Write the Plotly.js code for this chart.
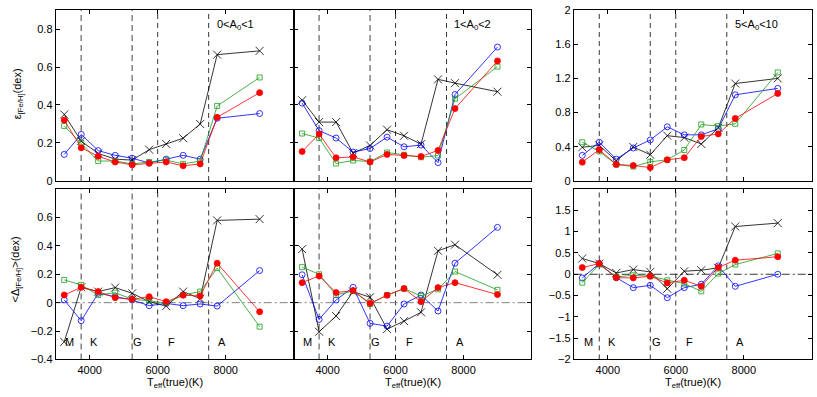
<!DOCTYPE html>
<html>
<head>
<meta charset="utf-8">
<script src="https://cdn.plot.ly/plotly-3.0.1.min.js"></script>
<style>
  html, body { margin: 0; padding: 0; background: #fff; }
  #myPlot { width: 817px; height: 397px; }
</style>
</head>
<body>
<div id="myPlot"></div>
<script>
// 1. Data
// Effective temperature bins (K), same for every panel
const TEFF = [3250, 3750, 4250, 4750, 5250, 5750, 6250, 6750, 7250, 7750, 9000];

// Spectral type boundaries and labels
const BOUNDS = [3750, 5250, 6000, 7500];
const SPEC_LABELS = ["M", "K", "G", "F", "A"];
const SPEC_POS = [3420, 4120, 5420, 6400, 7900];

// Extinction bins (panel titles)
const BIN_LABELS = ["0&lt;A<sub>0</sub>&lt;1", "1&lt;A<sub>0</sub>&lt;2", "5&lt;A<sub>0</sub>&lt;10"];

// Top row: epsilon [Fe/H] (dex)
const eps1Cross = [0.35, 0.21, 0.145, 0.115, 0.11, 0.165, 0.195, 0.225, 0.30, 0.665, 0.685];
const eps1Circ  = [0.14, 0.245, 0.16, 0.135, 0.12, 0.095, 0.115, 0.135, 0.115, 0.33, 0.355];
const eps1Sq    = [0.29, 0.20, 0.105, 0.105, 0.09, 0.10, 0.11, 0.09, 0.105, 0.395, 0.545];
const eps1Dot   = [0.32, 0.175, 0.13, 0.10, 0.085, 0.093, 0.10, 0.08, 0.09, 0.335, 0.465];

const eps2Cross = [0.425, 0.31, 0.31, 0.147, 0.187, 0.27, 0.238, 0.194, 0.535, 0.515, 0.47];
const eps2Circ  = [0.41, 0.265, 0.226, 0.152, 0.171, 0.231, 0.18, 0.189, 0.097, 0.455, 0.705];
const eps2Sq    = [0.25, 0.226, 0.092, 0.108, 0.102, 0.15, 0.138, 0.125, 0.134, 0.433, 0.602];
const eps2Dot   = [0.155, 0.247, 0.122, 0.127, 0.10, 0.14, 0.134, 0.129, 0.161, 0.381, 0.632];

const eps3Cross = [0.394, 0.417, 0.236, 0.398, 0.307, 0.53, 0.508, 0.433, 0.622, 1.14, 1.2];
const eps3Circ  = [0.30, 0.453, 0.256, 0.386, 0.48, 0.634, 0.54, 0.54, 0.61, 1.008, 1.083];
const eps3Sq    = [0.453, 0.346, 0.193, 0.169, 0.224, 0.248, 0.362, 0.661, 0.642, 0.669, 1.27];
const eps3Dot   = [0.22, 0.366, 0.193, 0.181, 0.157, 0.248, 0.272, 0.52, 0.551, 0.732, 1.024];

// Bottom row: mean Delta [Fe/H] (dex)
const del1Cross = [-0.276, 0.108, 0.078, 0.106, 0.066, 0.007, -0.024, 0.078, 0.028, 0.579, 0.588];
const del1Circ  = [0.019, -0.127, 0.066, 0.042, 0.019, -0.021, -0.005, -0.021, -0.009, -0.024, 0.226];
const del1Sq    = [0.16, 0.125, 0.054, 0.07, 0.024, 0.014, -0.005, 0.054, 0.078, 0.243, -0.169];
const del1Dot   = [0.054, 0.108, 0.078, 0.035, 0.024, 0.042, 0.007, 0.052, 0.047, 0.278, -0.064];

const del2Cross = [0.377, -0.205, -0.094, 0.078, 0.038, -0.186, -0.13, -0.068, 0.365, 0.408, 0.196];
const del2Circ  = [0.196, -0.118, 0.019, 0.108, -0.146, -0.165, -0.009, 0.054, -0.059, 0.278, 0.53];
const del2Sq    = [0.25, 0.2, 0.054, 0.082, -0.009, 0.054, 0.099, 0.047, 0.094, 0.219, 0.09];
const del2Dot   = [0.141, 0.188, 0.071, 0.085, -0.005, 0.052, 0.099, 0.007, 0.106, 0.141, 0.057];

const del3Cross = [0.37, 0.25, 0.03, 0.11, 0.055, -0.34, 0.07, 0.095, 0.15, 1.12, 1.2];
const del3Circ  = [-0.087, 0.25, -0.08, -0.315, -0.26, -0.55, -0.315, -0.236, 0.197, -0.283, 0.0];
const del3Sq    = [-0.197, 0.228, -0.063, -0.024, -0.047, -0.142, -0.22, -0.40, 0.016, 0.228, 0.488];
const del3Dot   = [0.157, 0.25, -0.08, -0.087, -0.047, -0.205, -0.142, -0.283, 0.157, 0.33, 0.41];

const PANELS = [
    [eps1Cross, eps1Circ, eps1Sq, eps1Dot],
    [eps2Cross, eps2Circ, eps2Sq, eps2Dot],
    [eps3Cross, eps3Circ, eps3Sq, eps3Dot],
    [del1Cross, del1Circ, del1Sq, del1Dot],
    [del2Cross, del2Circ, del2Sq, del2Dot],
    [del3Cross, del3Circ, del3Sq, del3Dot]
];

// 2. Styles
const FONT = "Liberation Sans, Arial, Helvetica, sans-serif";
const SERIES_STYLE = [
    { color: '#000000', symbol: 'x-thin-open', size: 8 },
    { color: '#0000ff', symbol: 'circle-open', size: 6 },
    { color: '#1a9e1a', symbol: 'square-open', size: 5 },
    { color: '#ff0000', symbol: 'circle', size: 6 }
];

// Panel placement (paper fractions)
const X_DOM = [[0.0682, 0.3594], [0.3594, 0.6505], [0.7023, 0.9936]];
const Y_DOM = [[0.5441, 0.9748], [0.0945, 0.5239]];

// 3. Build traces
const traces = [];
PANELS.forEach((series, p) => {
    const n = p + 1;
    series.forEach((vals, s) => {
        const st = SERIES_STYLE[s];
        traces.push({
            x: TEFF,
            y: vals,
            xaxis: n === 1 ? 'x' : 'x' + n,
            yaxis: n === 1 ? 'y' : 'y' + n,
            mode: 'lines+markers',
            line: { color: st.color, width: 0.8 },
            marker: {
                symbol: st.symbol, size: st.size, color: st.color,
                line: { color: st.color, width: 0.8 }
            },
            hoverinfo: 'skip'
        });
    });
});

// 4. Axes
function xAxis(col, bottom) {
    return {
        domain: X_DOM[col],
        range: [3000, 10000],
        tickvals: [4000, 6000, 8000],
        ticktext: ["4000", "6000", "8000"],
        showticklabels: bottom,
        ticks: 'inside', ticklen: 4, tickcolor: '#000', mirror: 'ticks',
        showline: true, linecolor: '#000', linewidth: 1,
        showgrid: false, zeroline: false,
        tickfont: { family: FONT, size: 11, color: '#000' }
    };
}

function yAxis(row, col, range, vals, anchor) {
    return {
        domain: Y_DOM[row],
        anchor: anchor,
        range: range,
        tickvals: vals,
        showticklabels: col !== 1,
        ticks: 'inside', ticklen: 4, tickcolor: '#000', mirror: 'ticks',
        showline: true, linecolor: '#000', linewidth: 1,
        showgrid: false, zeroline: false,
        tickfont: { family: FONT, size: 11, color: '#000' }
    };
}

const layout = {
    width: 817,
    height: 397,
    margin: { t: 0, b: 0, l: 0, r: 0 },
    paper_bgcolor: '#fff',
    plot_bgcolor: '#fff',
    showlegend: false,
    font: { family: FONT, size: 11, color: '#000' },

    xaxis: Object.assign(xAxis(0, false), { anchor: 'y' }),
    xaxis2: Object.assign(xAxis(1, false), { anchor: 'y2' }),
    xaxis3: Object.assign(xAxis(2, false), { anchor: 'y3' }),
    xaxis4: Object.assign(xAxis(0, true), { anchor: 'y4' }),
    xaxis5: Object.assign(xAxis(1, true), { anchor: 'y5' }),
    xaxis6: Object.assign(xAxis(2, true), { anchor: 'y6' }),

    yaxis: yAxis(0, 0, [0, 0.9], [0, 0.2, 0.4, 0.6, 0.8], 'x'),
    yaxis2: yAxis(0, 1, [0, 0.9], [0, 0.2, 0.4, 0.6, 0.8], 'x2'),
    yaxis3: yAxis(0, 2, [0, 2], [0, 0.4, 0.8, 1.2, 1.6, 2], 'x3'),
    yaxis4: yAxis(1, 0, [-0.4, 0.8], [-0.4, -0.2, 0, 0.2, 0.4, 0.6], 'x4'),
    yaxis5: yAxis(1, 1, [-0.4, 0.8], [-0.4, -0.2, 0, 0.2, 0.4, 0.6], 'x5'),
    yaxis6: yAxis(1, 2, [-2, 2], [-2, -1.5, -1, -0.5, 0, 0.5, 1, 1.5], 'x6'),

    shapes: [],
    annotations: []
};

// 5. Reference lines: spectral boundaries and zero level
for (let n = 1; n <= 6; n++) {
    const xr = n === 1 ? 'x' : 'x' + n;
    const yr = n === 1 ? 'y' : 'y' + n;
    const lastCol = (n === 3 || n === 6);
    BOUNDS.forEach((b, i) => {
        const grey = !lastCol && i < 2;
        layout.shapes.push({
            type: 'line', layer: 'below',
            xref: xr, yref: yr + ' domain',
            x0: b, x1: b, y0: 0, y1: 1,
            line: { color: grey ? '#808080' : '#000', width: grey ? 1.5 : 0.8, dash: grey ? '6px,4px' : '5px,4px' }
        });
    });
    if (n >= 4) {
        layout.shapes.push({
            type: 'line', layer: 'below',
            xref: xr + ' domain', yref: yr,
            x0: 0, x1: 1, y0: 0, y1: 0,
            line: { color: lastCol ? '#000' : '#808080', width: lastCol ? 0.8 : 1, dash: '8px,3px,2px,3px' }
        });
        SPEC_LABELS.forEach((lab, i) => {
            layout.annotations.push({
                text: lab, xref: xr, yref: yr + ' domain',
                x: SPEC_POS[i], y: 0.1, xanchor: 'center', yanchor: 'middle', showarrow: false,
                font: { family: FONT, size: 11, color: '#000' }
            });
        });
        layout.annotations.push({
            text: "T<sub>eff</sub>(true)(K)",
            xref: xr + ' domain', yref: 'paper',
            x: 0.5, y: 0.057, xanchor: 'center', yanchor: 'top', showarrow: false,
            font: { family: FONT, size: 11, color: '#000' }
        });
    } else {
        layout.annotations.push({
            text: BIN_LABELS[n - 1],
            xref: xr + ' domain', yref: yr + ' domain',
            x: n === 3 ? 0.768 : 0.754, y: 0.915, xanchor: 'center', yanchor: 'middle', showarrow: false,
            font: { family: FONT, size: 11, color: '#000' }
        });
    }
}

// Y titles
layout.annotations.push({
    text: "ε<sub>[Fe/H]</sub>(dex)", textangle: -90,
    xref: 'paper', yref: 'paper', x: 0.022, y: 0.765, xanchor: 'center', yanchor: 'middle', showarrow: false,
    font: { family: FONT, size: 11, color: '#000' }
});
layout.annotations.push({
    text: "&lt;Δ<sub>[Fe/H]</sub>&gt;(dex)", textangle: -90,
    xref: 'paper', yref: 'paper', x: 0.019, y: 0.32, xanchor: 'center', yanchor: 'middle', showarrow: false,
    font: { family: FONT, size: 11, color: '#000' }
});

Plotly.newPlot("myPlot", traces, layout, { staticPlot: true });
</script>
</body>
</html>
